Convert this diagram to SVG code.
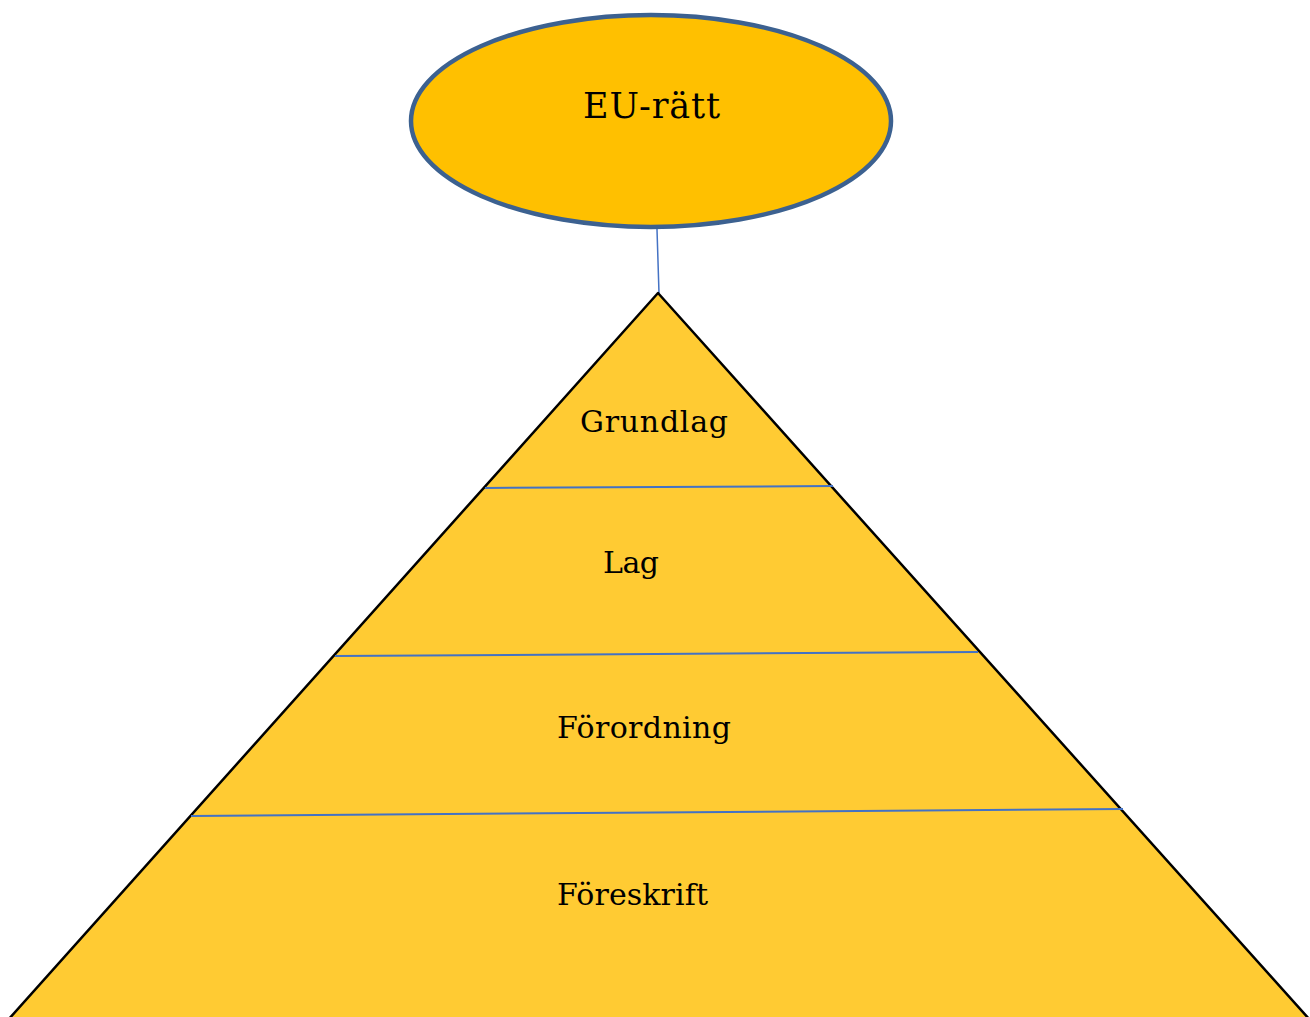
<svg xmlns="http://www.w3.org/2000/svg" width="1310" height="1017" viewBox="0 0 1310 1017">
<style>
.lbl{font-family:"DejaVu Serif","Liberation Serif",serif;fill:#000}
.div{stroke:#4472C4;stroke-width:2;fill:none}
</style>
<rect width="1310" height="1017" fill="#fff"/>
<g id="connectors">
<line x1="657" y1="229" x2="659" y2="293" stroke="#4472C4" stroke-width="1.5"/>
</g>
<g id="pyramid">
<polygon points="658,293 1310,1020 8,1020" fill="#FFCB33" stroke="#000" stroke-width="2.5" stroke-linejoin="round"/>
<line class="div" x1="485" y1="488" x2="833" y2="486"/>
<line class="div" x1="335" y1="656" x2="978" y2="652"/>
<line class="div" x1="191" y1="816" x2="1123" y2="809"/>
</g>
<g id="eu">
<ellipse cx="651" cy="121" rx="240" ry="106" fill="#FFC000" stroke="#3C6190" stroke-width="4.5"/>
<text class="lbl" x="583" y="118" font-size="35" textLength="137">EU-rätt</text>
</g>
<g id="grundlag"><text class="lbl" x="580" y="432" font-size="30" textLength="148">Grundlag</text></g>
<g id="lag"><text class="lbl" x="603" y="573" font-size="30" textLength="56">Lag</text></g>
<g id="forordning"><text class="lbl" x="557" y="738" font-size="30" textLength="174">Förordning</text></g>
<g id="foreskrift"><text class="lbl" x="557" y="905" font-size="30" textLength="151">Föreskrift</text></g>
</svg>
